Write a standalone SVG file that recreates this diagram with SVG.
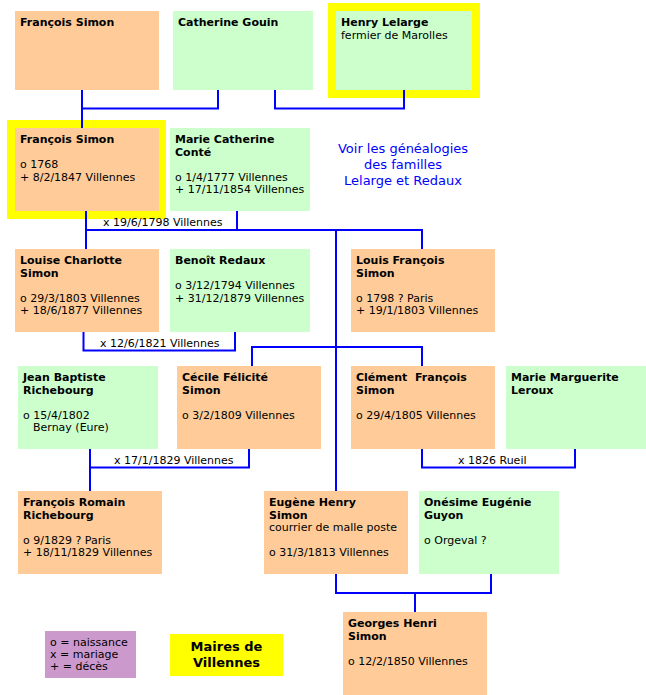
<svg xmlns="http://www.w3.org/2000/svg" width="646" height="695" viewBox="0 0 646 695">
<style>
.m{fill:#FFCC99}
.f{fill:#CCFFCC}
.y{fill:#FFFF00}
text{font-family:"DejaVu Sans","Liberation Sans",sans-serif;font-size:11px;fill:#000}
.b{font-weight:bold}
.lk{fill:#0000FF;font-size:13px;text-anchor:middle}
.mv{font-weight:bold;font-size:13px;text-anchor:middle}
.c{fill:none;stroke:#0000FF;stroke-width:2}
</style>
<rect width="646" height="695" fill="#FFFFFF"/>
<g id="francois-simon-1">
<rect class="m" x="15" y="11" width="144" height="79"/>
<text class="b" x="20" y="26">François Simon</text>
</g>
<g id="catherine-gouin">
<rect class="f" x="173" y="11" width="140" height="79"/>
<text class="b" x="178" y="26">Catherine Gouin</text>
</g>
<g id="henry-lelarge">
<rect class="y" x="328" y="3" width="152" height="95"/>
<rect class="f" x="336" y="11" width="136" height="79"/>
<text class="b" x="341" y="26">Henry Lelarge</text>
<text x="341" y="38.5">fermier de Marolles</text>
</g>
<g id="francois-simon-2">
<rect class="y" x="7" y="120" width="159" height="99"/>
<rect class="m" x="15" y="128" width="144" height="83"/>
<text class="b" x="20" y="143">François Simon</text>
<text x="20" y="168">o 1768</text>
<text x="20" y="180.5">+ 8/2/1847 Villennes</text>
</g>
<g id="marie-catherine-conte">
<rect class="f" x="170" y="128" width="140" height="83"/>
<text class="b" x="175" y="143">Marie Catherine</text>
<text class="b" x="175" y="155.5">Conté</text>
<text x="175" y="180.5">o 1/4/1777 Villennes</text>
<text x="175" y="193">+ 17/11/1854 Villennes</text>
</g>
<g id="note">
<text class="lk" x="403" y="153">Voir les généalogies</text>
<text class="lk" x="403" y="169">des familles</text>
<text class="lk" x="403" y="185">Lelarge et Redaux</text>
</g>
<g id="louise-charlotte-simon">
<rect class="m" x="15" y="249" width="144" height="83"/>
<text class="b" x="20" y="264">Louise Charlotte</text>
<text class="b" x="20" y="276.5">Simon</text>
<text x="20" y="301.5">o 29/3/1803 Villennes</text>
<text x="20" y="314">+ 18/6/1877 Villennes</text>
</g>
<g id="benoit-redaux">
<rect class="f" x="170" y="249" width="140" height="83"/>
<text class="b" x="175" y="264">Benoît Redaux</text>
<text x="175" y="289">o 3/12/1794 Villennes</text>
<text x="175" y="301.5">+ 31/12/1879 Villennes</text>
</g>
<g id="louis-francois-simon">
<rect class="m" x="351" y="249" width="144" height="83"/>
<text class="b" x="356" y="264">Louis François</text>
<text class="b" x="356" y="276.5">Simon</text>
<text x="356" y="301.5">o 1798 ? Paris</text>
<text x="356" y="314">+ 19/1/1803 Villennes</text>
</g>
<g id="jean-baptiste-richebourg">
<rect class="f" x="18" y="366" width="140" height="83"/>
<text class="b" x="23" y="381">Jean Baptiste</text>
<text class="b" x="23" y="393.5">Richebourg</text>
<text x="23" y="418.5">o 15/4/1802</text>
<text x="33" y="431">Bernay (Eure)</text>
</g>
<g id="cecile-felicite-simon">
<rect class="m" x="177" y="366" width="144" height="83"/>
<text class="b" x="182" y="381">Cécile Félicité</text>
<text class="b" x="182" y="393.5">Simon</text>
<text x="182" y="418.5">o 3/2/1809 Villennes</text>
</g>
<g id="clement-francois-simon">
<rect class="m" x="351" y="366" width="144" height="83"/>
<text class="b" x="356" y="381" xml:space="preserve">Clément  François</text>
<text class="b" x="356" y="393.5">Simon</text>
<text x="356" y="418.5">o 29/4/1805 Villennes</text>
</g>
<g id="marie-marguerite-leroux">
<rect class="f" x="506" y="366" width="140" height="83"/>
<text class="b" x="511" y="381">Marie Marguerite</text>
<text class="b" x="511" y="393.5">Leroux</text>
</g>
<g id="francois-romain-richebourg">
<rect class="m" x="18" y="491" width="144" height="83"/>
<text class="b" x="23" y="506">François Romain</text>
<text class="b" x="23" y="518.5">Richebourg</text>
<text x="23" y="543.5">o 9/1829 ? Paris</text>
<text x="23" y="556">+ 18/11/1829 Villennes</text>
</g>
<g id="eugene-henry-simon">
<rect class="m" x="264" y="491" width="144" height="83"/>
<text class="b" x="269" y="506">Eugène Henry</text>
<text class="b" x="269" y="518.5">Simon</text>
<text x="269" y="531">courrier de malle poste</text>
<text x="269" y="556">o 31/3/1813 Villennes</text>
</g>
<g id="onesime-eugenie-guyon">
<rect class="f" x="419" y="491" width="140" height="83"/>
<text class="b" x="424" y="506">Onésime Eugénie</text>
<text class="b" x="424" y="518.5">Guyon</text>
<text x="424" y="543.5">o Orgeval ?</text>
</g>
<g id="georges-henri-simon">
<rect class="m" x="343" y="612" width="144" height="83"/>
<text class="b" x="348" y="627">Georges Henri</text>
<text class="b" x="348" y="639.5">Simon</text>
<text x="348" y="664.5">o 12/2/1850 Villennes</text>
</g>
<g id="legend">
<rect fill="#CC99CC" x="45" y="631" width="91" height="47"/>
<text x="50" y="645.5">o = naissance</text>
<text x="50" y="657.5">x = mariage</text>
<text x="50" y="669.5">+ = décès</text>
</g>
<g id="maires">
<rect class="y" x="170" y="634" width="113" height="42"/>
<text class="mv" x="226.5" y="650.5">Maires de</text>
<text class="mv" x="226.5" y="666.5">Villennes</text>
</g>
<g id="connectors">
<path class="c" d="M82,90V128M82,108.5H218V90"/>
<path class="c" d="M275,90V108.5H404V90"/>
<path class="c" d="M86,211V249M86,230H423M422,230V249M237,211V230M336,230V491"/>
<path class="c" d="M83.5,332V350.5H235V332"/>
<path class="c" d="M252,366V347H422V366"/>
<path class="c" d="M90,449V491M90,467.5H249V449"/>
<path class="c" d="M422,449V467.5H575V449"/>
<path class="c" d="M336,574V593H491V574M415,593V612"/>
<text x="103" y="226">x 19/6/1798 Villennes</text>
<text x="100" y="346.5">x 12/6/1821 Villennes</text>
<text x="114" y="463.5">x 17/1/1829 Villennes</text>
<text x="458" y="463.5">x 1826 Rueil</text>
</g>
</svg>
